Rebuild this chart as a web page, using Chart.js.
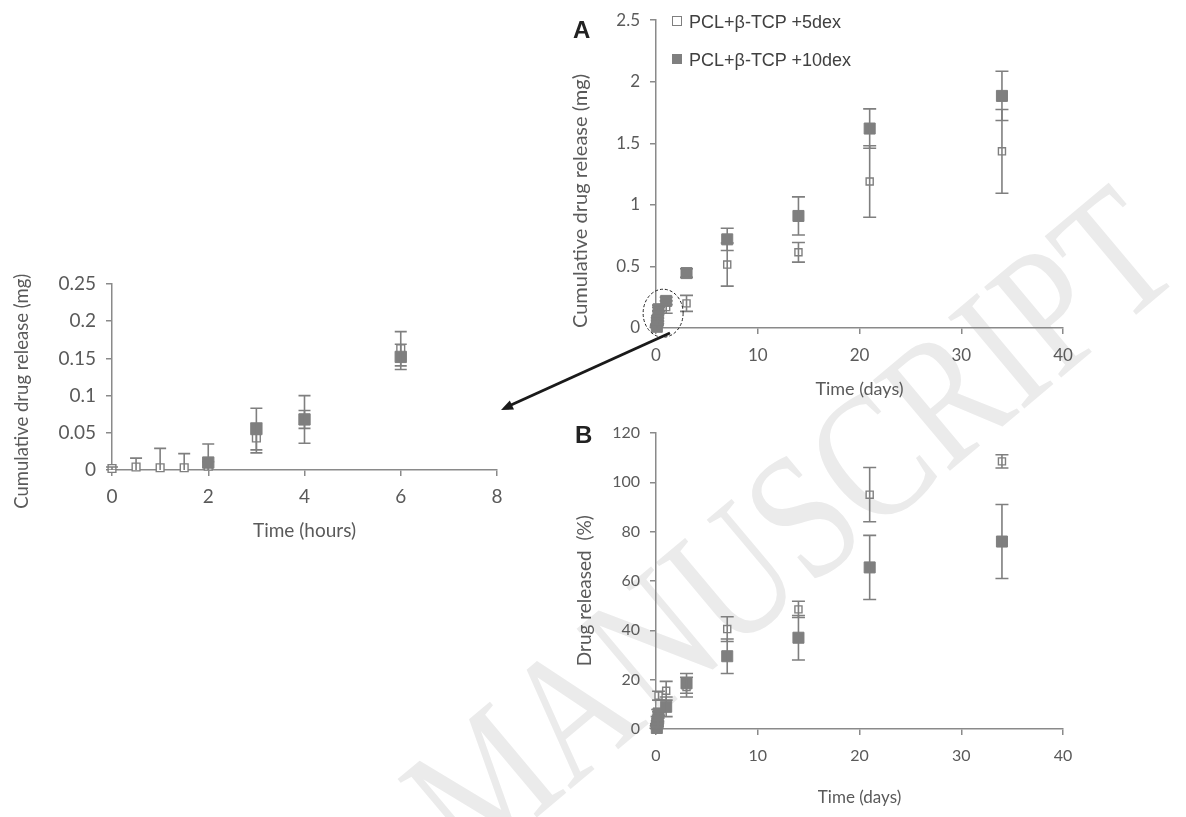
<!DOCTYPE html>
<html>
<head>
<meta charset="utf-8">
<script src="https://cdn.jsdelivr.net/npm/chart.js@4.4.1/dist/chart.umd.min.js"></script>
<style>
  body { margin: 0; background: #fff; }
  #page { position: relative; width: 1186px; height: 817px; overflow: hidden; }
  .box { position: absolute; }
  .panel { position: absolute; font-family: "Liberation Sans", Arial, sans-serif; font-weight: bold; font-size: 24px; color: #222; line-height: 1; }
  #watermark {
    position: absolute; right: -20px; top: 150px; line-height: 1;
    font-family: "Liberation Serif", "DejaVu Serif", serif; font-size: 145px; color: #ebebeb;
    white-space: nowrap; transform-origin: 100% 100%; transform: rotate(-40deg) scaleY(1.25);
  }
  .leg { position: absolute; left: 672px; font-family: "Liberation Sans", Arial, sans-serif; font-size: 18px; color: #404040; line-height: 1; white-space: nowrap; }
  .leg span { display: inline-block; width: 8px; height: 8px; margin-right: 7px; vertical-align: 2px; border: 1px solid #7f7f7f; }
</style>
</head>
<body>
<div id="page">
  <div id="watermark">ACCEPTED MANUSCRIPT</div>
  <div class="box" style="left:0;top:260px"><canvas id="insetChart" width="520" height="300"></canvas></div>
  <div class="box" style="left:560px;top:0"><canvas id="chartA" width="626" height="400"></canvas></div>
  <div class="box" style="left:560px;top:400px"><canvas id="chartB" width="626" height="417"></canvas></div>
  <div class="panel" style="left:573px;top:18px">A</div>
  <div class="panel" style="left:575px;top:423px">B</div>
  <div id="legend"></div>
  <svg class="box" style="left:0;top:0" width="1186" height="817">
    <line x1="670" y1="333" x2="511" y2="405" stroke="#1a1a1a" stroke-width="3"/>
    <polygon points="501,410 514,409.5 509.8,400.5" fill="#1a1a1a"/>
  </svg>
</div>
<script>
// names of the two formulations
const seriesNames = ['PCL+β-TCP +5dex', 'PCL+β-TCP +10dex'];

// inset: first 6 hours (mg)
const insetHours = [0, 0.5, 1, 1.5, 2, 3, 4, 6];
const inset5dex = [0.002, 0.004, 0.003, 0.003, 0.005, 0.043, 0.068, 0.163];
const inset5dexErr = [0.002, 0.012, 0.026, 0.019, 0.006, 0.02, 0.032, 0.023];
const inset10dex = [null, null, null, null, 0.01, 0.055, 0.068, 0.152];
const inset10dexErr = [null, null, null, null, 0.025, 0.028, 0.012, 0.017];

// panel A and B: time in days
const days = [0, 0.021, 0.042, 0.063, 0.083, 0.125, 0.167, 0.25, 1, 3, 7, 14, 21, 34];
const mg5dex = [0.002, 0.004, 0.003, 0.003, 0.005, 0.043, 0.068, 0.163, 0.17, 0.2, 0.515, 0.615, 1.19, 1.435];
const mg5dexErr = [0.002, 0.012, 0.026, 0.019, 0.006, 0.02, 0.032, 0.023, 0.05, 0.065, 0.175, 0.08, 0.29, 0.34];
const mg10dex = [null, null, null, null, 0.01, 0.055, 0.068, 0.152, 0.22, 0.446, 0.72, 0.91, 1.62, 1.885];
const mg10dexErr = [null, null, null, null, 0.025, 0.028, 0.012, 0.017, 0.03, 0.035, 0.09, 0.155, 0.16, 0.2];

const pct5dex = [0.1, 0.3, 0.2, 0.2, 0.4, 3.4, 5.4, 13.5, 15.5, 17, 40.5, 48.5, 95, 108.5];
const pct5dexErr = [0.2, 1, 2, 1.5, 0.5, 1.6, 2.5, 1.8, 3.8, 4, 5, 3.3, 11, 2.7];
const pct10dex = [null, null, null, null, 0.4, 2.2, 2.8, 6.3, 9, 18.5, 29.5, 37, 65.5, 76];
const pct10dexErr = [null, null, null, null, 1, 1.1, 0.5, 0.7, 4, 4, 7, 9, 13, 15];

const GRAY = '#7f7f7f';
const AXIS = '#8a8a8a';
const TEXT = '#5a5a5a';
const FONT = 'Lato, "Open Sans", sans-serif';

// legend
document.getElementById('legend').innerHTML = seriesNames.map((n, i) =>
  `<div class="leg" style="top:${[13, 51][i]}px"><span style="background:${i ? GRAY : '#fff'}"></span>${n}</div>`
).join('');

function points(xs, ys, errs) {
  const out = [];
  xs.forEach((x, i) => {
    if (ys[i] !== null) out.push({x: x, y: ys[i], e: errs[i]});
  });
  return out;
}

function datasets(xs, open, openErr, filled, filledErr, rOpen, rFilled) {
  return [
    {
      label: seriesNames[0], data: points(xs, open, openErr), order: 1, clip: false,
      pointStyle: 'rect', pointRadius: rOpen, pointBackgroundColor: '#fff',
      pointBorderColor: GRAY, pointBorderWidth: 1.4, showLine: false
    },
    {
      label: seriesNames[1], data: points(xs, filled, filledErr), order: 0, clip: false,
      pointStyle: 'rect', pointRadius: rFilled, pointBackgroundColor: GRAY,
      pointBorderColor: GRAY, pointBorderWidth: 1, showLine: false
    }
  ];
}

// Excel-like error bars, drawn on top of each series
const errorBars = {
  id: 'errorBars',
  afterDatasetDraw(chart, args) {
    const ds = chart.data.datasets[args.index];
    const y = chart.scales.y;
    const area = chart.chartArea;
    const ctx = chart.ctx;
    const cap = chart.options.plugins.errorBars.cap;
    ctx.save();
    ctx.beginPath();
    ctx.rect(area.left - 10, area.top - 2, area.right - area.left + 20, area.bottom - area.top + 2);
    ctx.clip();
    ctx.strokeStyle = GRAY;
    ctx.lineWidth = 1.6;
    args.meta.data.forEach((pt, i) => {
      const d = ds.data[i];
      if (d.e == null) return;
      const top = y.getPixelForValue(d.y + d.e);
      const bot = y.getPixelForValue(d.y - d.e);
      ctx.beginPath();
      ctx.moveTo(pt.x, top); ctx.lineTo(pt.x, bot);
      ctx.moveTo(pt.x - cap, top); ctx.lineTo(pt.x + cap, top);
      ctx.moveTo(pt.x - cap, bot); ctx.lineTo(pt.x + cap, bot);
      ctx.stroke();
    });
    ctx.restore();
  }
};

// dashed circle around the first hours on panel A
const zoomCircle = {
  id: 'zoomCircle',
  afterDraw(chart) {
    const opts = chart.options.plugins.zoomCircle;
    if (!opts || !opts.show) return;
    const cx = chart.scales.x.getPixelForValue(0.7);
    const cy = chart.scales.y.getPixelForValue(0.12);
    const ctx = chart.ctx;
    ctx.save();
    ctx.strokeStyle = '#222';
    ctx.lineWidth = 1;
    ctx.setLineDash([3, 2]);
    ctx.beginPath();
    ctx.ellipse(cx, cy, 20, 24, 0, 0, Math.PI * 2);
    ctx.stroke();
    ctx.restore();
  }
};

// Excel style numbers: 2 not 2.0, 0.1 not 0.10
const plainNumber = v => String(+v.toFixed(3));

function axis(o) {
  return {
    type: 'linear', min: 0, max: o.max,
    ticks: {stepSize: o.step, color: TEXT, font: {family: FONT, size: o.tickSize}, padding: o.tickPad,
            callback: plainNumber},
    grid: {drawOnChartArea: false, drawTicks: true, tickLength: 6, color: AXIS, lineWidth: 1.5},
    border: {color: AXIS, width: 1.5},
    title: {display: true, text: o.title, color: TEXT, font: {family: FONT, size: o.titleSize},
            align: o.titleAlign || 'center', padding: {top: o.titlePad, bottom: o.titlePad}},
    afterFit: s => { if (o.width) s.width = o.width; if (o.height) s.height = o.height; }
  };
}

function makeChart(id, data, pad, xOpt, yOpt, cap, circle) {
  return new Chart(document.getElementById(id), {
    type: 'scatter',
    data: {datasets: data},
    options: {
      responsive: false,
      animation: false,
      layout: {padding: pad},
      scales: {x: axis(xOpt), y: axis(yOpt)},
      plugins: {
        legend: {display: false},
        tooltip: {enabled: false},
        errorBars: {cap: cap},
        zoomCircle: {show: circle}
      }
    },
    plugins: [errorBars, zoomCircle]
  });
}

makeChart('insetChart',
  datasets(insetHours, inset5dex, inset5dexErr, inset10dex, inset10dexErr, 5.5, 8),
  {top: 24, right: 23, left: 0, bottom: 0},
  {max: 8, step: 2, tickSize: 19, tickPad: 9, title: 'Time (hours)', titleSize: 19, titlePad: 18, height: 90},
  {max: 0.25, step: 0.05, tickSize: 19, tickPad: 10, title: 'Cumulative drug release (mg)      ', titleSize: 18.5, titlePad: 11, width: 112},
  6, false);

makeChart('chartA',
  datasets(days, mg5dex, mg5dexErr, mg10dex, mg10dexErr, 5, 7.8),
  {top: 18, right: 123, left: 0, bottom: 0},
  {max: 40, step: 10, tickSize: 17, tickPad: 11, title: 'Time (days)', titleSize: 18, titlePad: 0, height: 72},
  {max: 2.5, step: 0.5, tickSize: 17, tickPad: 10, title: 'Cumulative drug release (mg)', titleSize: 20, titlePad: 9, width: 96, titleAlign: 'start'},
  6.5, true);

makeChart('chartB',
  datasets(days, pct5dex, pct5dexErr, pct10dex, pct10dexErr, 5, 7.8),
  {top: 33, right: 123, left: 0, bottom: 0},
  {max: 40, step: 10, tickSize: 16, tickPad: 11, title: 'Time (days)', titleSize: 17, titlePad: 9, height: 88},
  {max: 120, step: 20, tickSize: 16, tickPad: 10, title: 'Drug released  (%)    ', titleSize: 19, titlePad: 13, width: 96},
  6.5, false);
</script>
</body>
</html>
